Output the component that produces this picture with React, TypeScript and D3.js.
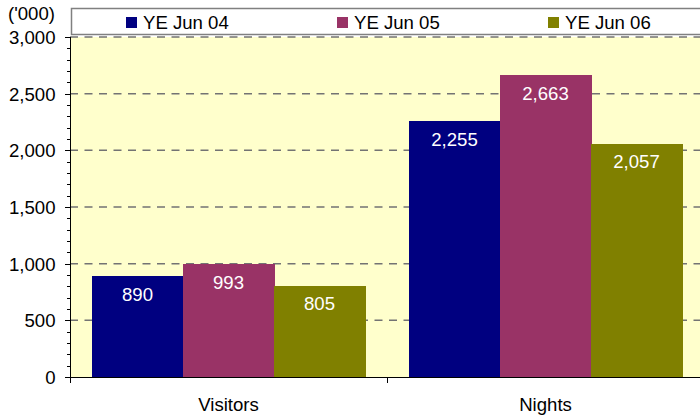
import React from "react";
import * as d3 from "d3";

const categories = ["Visitors", "Nights"];
const seriesNames = ["YE Jun 04", "YE Jun 05", "YE Jun 06"];
const ye04 = [890, 2255];
const ye05 = [993, 2663];
const ye06 = [805, 2057];
const yTicks = [0, 500, 1000, 1500, 2000, 2500, 3000];
const colors = ["#000080", "#993366", "#808000"];

const W = 700;
const H = 416;
const left = 70;
const right = 704;
const top = 37;
const bottom = 377;
const font = "'Liberation Sans', Arial, sans-serif";
const fs = 18.6;

export default function App() {
  const series = [ye04, ye05, ye06];
  const x = d3.scaleBand().domain(categories).range([left, right]).paddingInner(0).paddingOuter(0);
  const inner = d3.scaleBand().domain(seriesNames).range([0, x.bandwidth()]).paddingInner(0).paddingOuter(0.2415);
  const y = d3.scaleLinear().domain([0, 3000]).range([bottom, top]);
  const minor = d3.range(0, 3001, 100);
  const fmt = d3.format(",");
  const legendX = [126, 337, 548];

  return (
    <svg width={W} height={H} style={{ position: "absolute", left: 0, top: 0, display: "block" }}>
      <rect x={left} y={top} width={right - left} height={bottom - top} fill="#FFFFCC" />
      {yTicks.filter((t) => t > 0).map((t) => (
        <line key={"g" + t} x1={left} x2={right} y1={y(t)} y2={y(t)} stroke="#737373" strokeWidth={1.5} strokeDasharray="8,6.5" />
      ))}
      {categories.map((c, ci) =>
        series.map((s, si) => {
          const bx = (x(c) as number) + (inner(seriesNames[si]) as number);
          const bw = inner.bandwidth();
          return (
            <g key={c + si}>
              <rect x={bx} y={y(s[ci])} width={bw + 0.5} height={bottom - y(s[ci])} fill={colors[si]} shapeRendering="crispEdges" />
              <text x={bx + bw / 2} y={y(s[ci]) + 24.5} textAnchor="middle" fill="#ffffff" fontFamily={font} fontSize={fs}>
                {fmt(s[ci])}
              </text>
            </g>
          );
        })
      )}
      {/* y axis */}
      <line x1={left + 0.5} x2={left + 0.5} y1={top} y2={bottom} stroke="#000" strokeWidth={1} />
      {minor.map((t) => (
        <line key={"m" + t} x1={t % 500 === 0 ? left - 5 : left - 3} x2={left} y1={Math.round(y(t)) + 0.5} y2={Math.round(y(t)) + 0.5} stroke="#000" strokeWidth={1} />
      ))}
      {yTicks.map((t) => (
        <text key={"yl" + t} x={55.5} y={y(t) + 7} textAnchor="end" fontFamily={font} fontSize={fs} fill="#000">
          {fmt(t)}
        </text>
      ))}
      <text x={8} y={20} fontFamily={font} fontSize={fs} fill="#000">('000)</text>
      {/* x axis */}
      <line x1={left} x2={right} y1={bottom + 0.5} y2={bottom + 0.5} stroke="#000" strokeWidth={1} />
      {[...categories.map((c) => x(c) as number), right].map((px, i) => (
        <line key={"xt" + i} x1={Math.round(px) + 0.5} x2={Math.round(px) + 0.5} y1={bottom} y2={bottom + 6} stroke="#000" strokeWidth={1} />
      ))}
      {categories.map((c) => (
        <text key={"xl" + c} x={(x(c) as number) + x.bandwidth() / 2} y={411} textAnchor="middle" fontFamily={font} fontSize={fs} fill="#000">
          {c}
        </text>
      ))}
      {/* legend */}
      <rect x={71.5} y={8.5} width={640} height={26} fill="#ffffff" stroke="#808080" strokeWidth={1.5} />
      {seriesNames.map((n, i) => (
        <g key={"lg" + n}>
          <rect x={legendX[i]} y={17} width={11} height={11} fill={colors[i]} />
          <text x={legendX[i] + 17} y={29} fontFamily={font} fontSize={fs} fill="#000">{n}</text>
        </g>
      ))}
    </svg>
  );
}
